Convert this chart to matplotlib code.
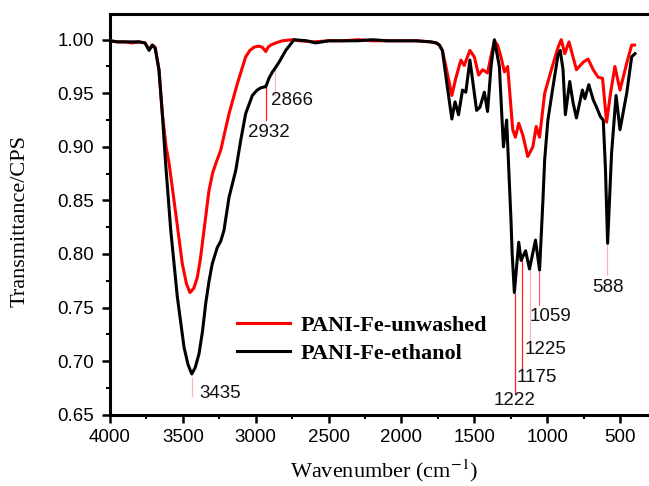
import matplotlib
matplotlib.use("Agg")
import matplotlib.pyplot as plt
from matplotlib.ticker import MultipleLocator, FormatStrFormatter

plt.rcParams["mathtext.fontset"] = "stix"

# ---- data ----
wn_unwashed = [4000, 3950, 3900, 3850, 3800, 3760, 3732, 3710, 3690, 3664, 3641, 3615, 3595,
               3549, 3504, 3475, 3451, 3425, 3401, 3380, 3355, 3321, 3295, 3275, 3240, 3210,
               3183, 3126, 3069, 3040, 3012, 2980, 2955, 2931, 2915, 2897, 2863, 2817, 2750,
               2700, 2600, 2500, 2400, 2300, 2200, 2100, 2000, 1900, 1800, 1760,
               1740, 1719, 1690, 1654, 1627, 1592, 1569, 1530, 1500, 1470, 1443, 1409, 1385,
               1362, 1340, 1317, 1293, 1271, 1236, 1218, 1195, 1167, 1133, 1098, 1075, 1052,
               1017, 971, 925, 903, 879, 850, 799, 753, 719, 684, 650, 620, 592, 565, 535,
               500, 454, 420, 400]
t_unwashed = [0.999, 0.998, 0.998, 0.997, 0.998, 0.997, 0.991, 0.995, 0.993, 0.972, 0.931, 0.900, 0.885,
              0.838, 0.791, 0.772, 0.764, 0.768, 0.778, 0.795, 0.822, 0.859, 0.876, 0.884, 0.897, 0.915,
              0.931, 0.959, 0.984, 0.990, 0.993, 0.994, 0.993, 0.989, 0.993, 0.995, 0.997, 0.999, 1.000,
              0.999, 0.998, 0.999, 0.999, 1.000, 0.999, 0.999, 0.999, 0.999, 0.998, 0.997,
              0.995, 0.990, 0.972, 0.948, 0.964, 0.981, 0.976, 0.990, 0.984, 0.967, 0.972, 0.969, 0.985,
              0.999, 0.995, 0.984, 0.970, 0.975, 0.916, 0.909, 0.922, 0.911, 0.891, 0.900, 0.919, 0.909,
              0.950, 0.972, 0.993, 1.000, 0.987, 0.998, 0.972, 0.979, 0.982, 0.972, 0.965, 0.964, 0.923,
              0.950, 0.975, 0.953, 0.978, 0.995, 0.995]

wn_ethanol = [4000, 3950, 3900, 3850, 3800, 3760, 3732, 3710, 3690, 3664, 3641, 3618, 3583,
              3538, 3492, 3465, 3439, 3415, 3389, 3365, 3343, 3320, 3298, 3264, 3240, 3218,
              3183, 3137, 3103, 3069, 3023, 2990, 2966, 2940, 2931, 2920, 2909, 2885, 2874,
              2840, 2794, 2737, 2650, 2588, 2500, 2400, 2300, 2200, 2100, 2000, 1900, 1800, 1760,
              1740, 1719, 1685, 1654, 1632, 1608, 1581, 1558, 1530, 1484, 1461, 1431, 1409,
              1385, 1362, 1328, 1300, 1278, 1248, 1240, 1225, 1195, 1179, 1148, 1121, 1080,
              1052, 1029, 1017, 995, 960, 925, 910, 891, 875, 845, 822, 799, 758, 741, 714,
              684, 661, 634, 615, 600, 585, 558, 527, 500, 454, 420, 397]
t_ethanol = [0.999, 0.998, 0.998, 0.998, 0.998, 0.997, 0.990, 0.995, 0.992, 0.972, 0.931, 0.884, 0.822,
             0.760, 0.713, 0.697, 0.688, 0.694, 0.707, 0.728, 0.754, 0.775, 0.791, 0.806, 0.812, 0.822,
             0.853, 0.878, 0.906, 0.931, 0.948, 0.953, 0.955, 0.956, 0.956, 0.960, 0.964, 0.970, 0.972,
             0.979, 0.990, 1.000, 0.999, 0.997, 0.999, 0.999, 0.999, 1.000, 0.999, 0.999, 0.999, 0.998, 0.997,
             0.995, 0.990, 0.956, 0.926, 0.942, 0.930, 0.953, 0.951, 0.981, 0.934, 0.937, 0.951, 0.933,
             0.975, 1.000, 0.975, 0.900, 0.925, 0.831, 0.800, 0.764, 0.811, 0.794, 0.803, 0.786, 0.813,
             0.785, 0.850, 0.888, 0.925, 0.956, 0.986, 0.990, 0.972, 0.930, 0.961, 0.941, 0.927, 0.953, 0.945, 0.958,
             0.944, 0.937, 0.928, 0.925, 0.880, 0.810, 0.894, 0.948, 0.916, 0.950, 0.984, 0.987]

series_labels = ["PANI-Fe-unwashed", "PANI-Fe-ethanol"]
series_colors = ["#ff0000", "#000000"]

# peak annotations
peak_x = [3435, 2932, 2866, 1222, 1175, 1121, 1059, 588]
peak_y_top = [0.684, 0.955, 0.972, 0.763, 0.794, 0.787, 0.783, 0.808]
peak_y_bot = [0.667, 0.925, 0.948, 0.670, 0.691, 0.719, 0.752, 0.780]
peak_labels = ["3435", "2932", "2866", "1222", "1175", "1225", "1059", "588"]
label_x = [3389, 2909, 2895, 1365, 1207, 1155, 1121, 689]
label_y = [0.670, 0.913, 0.943, 0.663, 0.685, 0.711, 0.742, 0.769]
label_ha = ["left", "center", "left", "left", "left", "left", "left", "left"]
line_cols = ["#ffb3b3", "#ff2020", "#ffb3b3", "#ff2020", "#ff2020", "#ffb3b3", "#ff6060", "#ffb3b3"]

W, H = 649, 486
fig = plt.figure(figsize=(W / 100, H / 100), dpi=100)
fig.patch.set_facecolor("white")
ax = fig.add_axes([110 / W, 1 - 414.7 / H, 1 - 110 / W, (414.7 - 14) / H])

ax.plot(wn_unwashed, t_unwashed, color=series_colors[0], lw=2.2, label=series_labels[0], zorder=3)
ax.plot(wn_ethanol, t_ethanol, color=series_colors[1], lw=2.2, label=series_labels[1], zorder=4)

for i in range(len(peak_x)):
    ax.plot([peak_x[i], peak_x[i]], [peak_y_top[i], peak_y_bot[i]], color=line_cols[i], lw=0.9, zorder=2)
    ax.text(label_x[i], label_y[i], peak_labels[i], ha=label_ha[i], va="center",
            fontsize=13.5, family="Liberation Sans", color="#111111")

ax.set_xlim(4000, 301)
ax.set_ylim(0.65, 1.024)
ax.xaxis.set_major_locator(MultipleLocator(500))
ax.xaxis.set_minor_locator(MultipleLocator(250))
ax.yaxis.set_major_locator(MultipleLocator(0.05))
ax.yaxis.set_minor_locator(MultipleLocator(0.025))
ax.yaxis.set_major_formatter(FormatStrFormatter("%.2f"))
ax.xaxis.set_major_formatter(FormatStrFormatter("%d"))

for s in ["left", "bottom", "top"]:
    ax.spines[s].set_linewidth(2.2)
ax.spines["right"].set_visible(False)
ax.tick_params(which="major", direction="out", length=6, width=1.8, labelsize=13.5, pad=4.5)
ax.tick_params(which="minor", direction="out", length=3, width=1.5)
ax.tick_params(axis="y", pad=5.5)
for lab in ax.get_xticklabels() + ax.get_yticklabels():
    lab.set_family("Liberation Sans")

leg = ax.legend(loc="center left", bbox_to_anchor=((237 - 110) / 539, (414.7 - 339.5) / 400.7),
                frameon=False, borderpad=0, borderaxespad=0, handlelength=2.4,
                handletextpad=0.45, labelspacing=0.35,
                prop={"family": "Liberation Serif", "weight": "bold", "size": 16})
for l in leg.get_lines():
    l.set_linewidth(2.2)

fig.text(20 / W, 1 - 221 / H, "Transmittance/CPS", rotation=90, ha="center", va="center",
         fontsize=16, family="Liberation Serif")
fig.text(384 / W, 1 - 471 / H, "Wavenumber (cm$^{-1}$)", ha="center", va="center",
         fontsize=16, family="Liberation Serif")

fig.savefig("out.png", dpi=100, facecolor="white")
